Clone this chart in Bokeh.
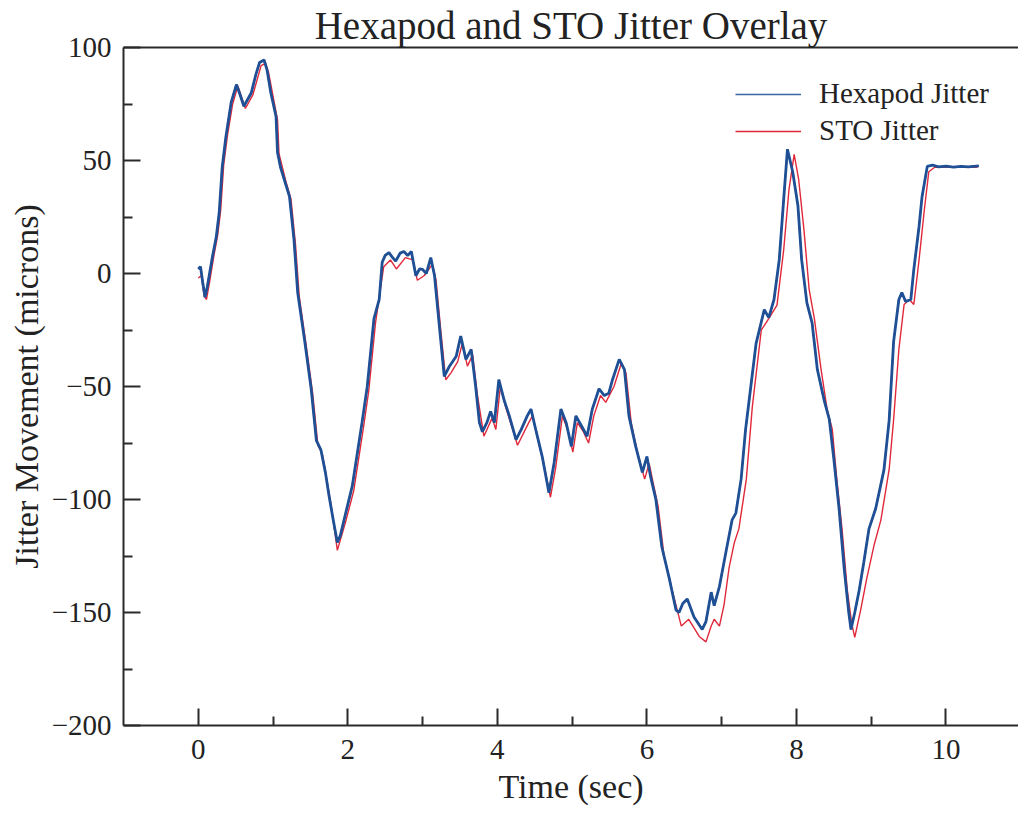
from bokeh.plotting import figure
from bokeh.models import (Range1d, FixedTicker, Legend, LegendItem, LinearAxis)
from bokeh.embed import file_html
from bokeh.resources import INLINE

# ---- data ----
hex_t = [0.00, 0.03, 0.06, 0.09, 0.12, 0.19, 0.24, 0.28, 0.32, 0.37, 0.44, 0.51, 0.55, 0.61,
         0.66, 0.71, 0.77, 0.82, 0.88, 0.92, 0.97, 1.04, 1.06, 1.10, 1.15, 1.22, 1.28, 1.33,
         1.42, 1.51, 1.58, 1.64, 1.70, 1.75, 1.81, 1.86, 1.90, 1.95, 2.06, 2.19, 2.26, 2.35,
         2.42, 2.46, 2.50, 2.55, 2.60, 2.64, 2.70, 2.75, 2.80, 2.85, 2.91, 2.96, 3.00, 3.05,
         3.11, 3.16, 3.22, 3.29, 3.36, 3.45, 3.51, 3.58, 3.65, 3.71, 3.76, 3.80, 3.86, 3.91,
         3.96, 4.02, 4.09, 4.16, 4.25, 4.32, 4.40, 4.45, 4.52, 4.60, 4.69, 4.76, 4.85, 4.92,
         4.99, 5.05, 5.13, 5.20, 5.27, 5.36, 5.43, 5.49, 5.54, 5.63, 5.70, 5.76, 5.85, 5.94,
         6.00, 6.05, 6.12, 6.20, 6.30, 6.39, 6.43, 6.48, 6.54, 6.63, 6.74, 6.79, 6.86, 6.90,
         6.97, 7.07, 7.14, 7.19, 7.26, 7.32, 7.39, 7.46, 7.57, 7.63, 7.70, 7.77, 7.83, 7.88,
         7.95, 8.02, 8.07, 8.14, 8.21, 8.28, 8.37, 8.44, 8.50, 8.57, 8.64, 8.70, 8.73, 8.78,
         8.84, 8.90, 8.97, 9.06, 9.17, 9.24, 9.30, 9.37, 9.41, 9.46, 9.53, 9.57, 9.64, 9.68,
         9.75, 9.82, 9.90, 10.00, 10.10, 10.20, 10.30, 10.44]
hex_v = [2, 3, -4, -10.5, -6, 7.5, 16, 27, 47, 60.6, 75.7, 83.6, 80, 74,
         77, 80, 88, 93.4, 94.5, 90, 80, 69.5, 53.5, 47, 41.6, 34, 15, -8.5,
         -29, -51, -74, -78, -88, -98.6, -110, -119, -116, -109, -94, -66, -50, -20,
         -11.5, 5, 8, 9.2, 7, 5.5, 9, 9.7, 8, 9.7, -1, 2, 1.8, 0,
         7, -1, -21.7, -45.5, -41, -36.6, -27.7, -38, -33.6, -50, -66, -70, -66, -61,
         -66, -47, -56, -63, -73.5, -69, -63, -60, -70, -81, -97, -83.6, -60, -66,
         -76.5, -63, -67.7, -72, -60, -51, -54, -53, -47, -38, -42.5, -63, -76.5, -88,
         -81, -90, -100, -121, -135, -149, -150, -146, -144, -152, -157.5, -154, -141, -147,
         -138.5, -121, -109, -106, -91, -69, -50, -31, -16, -19.5, -11.5, 6, 33, 55,
         45, 30, 6, -13, -22, -42.5, -56, -64.6, -82, -104, -131, -150, -157.5, -150,
         -140, -128, -113, -104, -87, -65, -30, -11.5, -8.4, -12.4, -11.5, 1.8, 20.8, 34,
         47.4, 48, 47.2, 47.5, 47.1, 47.4, 47.2, 47.6]

sto_t = [0.00, 0.04, 0.08, 0.11, 0.15, 0.21, 0.26, 0.30, 0.34, 0.39, 0.46, 0.53, 0.58, 0.63,
         0.73, 0.84, 0.90, 0.94, 1.06, 1.08, 1.17, 1.24, 1.30, 1.35, 1.44, 1.53, 1.60, 1.66,
         1.77, 1.86, 1.97, 2.08, 2.21, 2.28, 2.37, 2.48, 2.57, 2.65, 2.77, 2.87, 2.93, 3.02,
         3.13, 3.18, 3.24, 3.31, 3.38, 3.47, 3.53, 3.60, 3.67, 3.73, 3.82, 3.93, 3.98, 4.04,
         4.11, 4.27, 4.42, 4.47, 4.54, 4.62, 4.71, 4.78, 4.87, 4.94, 5.01, 5.07, 5.15, 5.22,
         5.29, 5.38, 5.45, 5.56, 5.66, 5.72, 5.79, 5.88, 5.97, 6.03, 6.08, 6.15, 6.23, 6.33,
         6.46, 6.56, 6.70, 6.79, 6.86, 6.90, 6.97, 7.03, 7.10, 7.17, 7.23, 7.33, 7.41, 7.53,
         7.63, 7.74, 7.83, 7.90, 7.97, 8.03, 8.10, 8.17, 8.24, 8.33, 8.41, 8.48, 8.54, 8.61,
         8.68, 8.74, 8.78, 8.86, 8.94, 9.04, 9.13, 9.24, 9.30, 9.37, 9.44, 9.51, 9.57, 9.64,
         9.71, 9.77, 9.85, 10.00, 10.20, 10.42]
sto_v = [-2, -1, -10, -11.5, -4, 8, 17, 28, 48, 61, 75, 83, 78, 73,
         79, 92, 93, 89, 68, 53, 41, 33, 13, -10, -31, -53, -76, -80,
         -101, -122.5, -110, -96, -68, -52, -22, 3, 6, 2, 7, 6, -3, -1,
         4, -3, -24, -47, -44, -39, -31, -41, -36, -53, -72, -64, -69, -50,
         -59, -76, -66, -63, -73, -84, -99, -86, -63, -69, -79, -66, -70, -75,
         -63, -54, -57, -50, -39.5, -44, -66, -80, -91, -84, -92, -103, -125, -139,
         -156, -153, -160.6, -163, -156, -153, -156, -147, -130, -119, -113, -91, -59, -25,
         -20, -14, 10.6, 37, 52.7, 41.6, 19.5, -7, -20, -42.5, -60, -69, -91, -113,
         -140, -155, -161, -148.7, -135, -120, -109, -86.7, -64.6, -33.6, -13.7, -11.5, -13.7, 6,
         28, 45, 47, 47, 47, 47]

x_ticks = [0, 2, 4, 6, 8, 10]
x_minor = [1, 3, 5, 7, 9]
y_ticks = [-200, -150, -100, -50, 0, 50, 100]
y_minor = [-175, -125, -75, -25, 25, 75]

SERIF = "Liberation Serif"
BLUE = "#1f4f95"
RED = "#e0283a"

p = figure(width=1018, height=816, output_backend="svg", toolbar_location=None,
           x_range=Range1d(-1, 10.97), y_range=Range1d(-200, 100),
           min_border_left=123, min_border_right=0, min_border_top=0,
           min_border_bottom=91, title="Hexapod and STO Jitter Overlay")
p.outline_line_color = None
p.grid.visible = False
p.background_fill_color = "white"
p.border_fill_color = "white"

p.title.text_font = SERIF
p.title.text_font_size = "39px"
p.title.text_font_style = "normal"
p.title.text_color = "#222222"
p.title.align = "center"
p.title.offset = 0
p.title.standoff = 2

sto = p.line(sto_t, sto_v, line_color=RED, line_width=1.4)
# thin copy of the hexapod trace (hidden under the thick one) used for the legend swatch
hex_key = p.line(hex_t, hex_v, line_color="#3f679f", line_width=1.5)
hexr = p.line(hex_t, hex_v, line_color=BLUE, line_width=2.8)

for ax in (p.xaxis[0], p.yaxis[0]):
    ax.axis_line_width = 2
    ax.axis_line_color = "#2a2a2a"
    ax.major_tick_line_color = "#2a2a2a"
    ax.minor_tick_line_color = "#2a2a2a"
    ax.major_tick_line_width = 2
    ax.minor_tick_line_width = 2
    ax.major_tick_in = 17
    ax.major_tick_out = 0
    ax.minor_tick_in = 9
    ax.minor_tick_out = 0
    ax.major_label_text_font = SERIF
    ax.major_label_text_font_size = "29px"
    ax.major_label_text_color = "#222222"
    ax.axis_label_text_font = SERIF
    ax.axis_label_text_font_size = "34px"
    ax.axis_label_text_font_style = "normal"
    ax.axis_label_text_color = "#222222"

p.xaxis[0].ticker = FixedTicker(ticks=x_ticks, minor_ticks=x_minor)
p.yaxis[0].ticker = FixedTicker(ticks=y_ticks, minor_ticks=y_minor)
p.xaxis[0].axis_label = "Time (sec)"
p.yaxis[0].axis_label = "Jitter Movement (microns)"
p.xaxis[0].major_label_standoff = 14
p.yaxis[0].major_label_standoff = 12
p.xaxis[0].axis_label_standoff = 6
p.yaxis[0].axis_label_standoff = 4

top = LinearAxis(ticker=FixedTicker(ticks=[]), axis_line_width=2, axis_line_color="#2a2a2a",
                 major_tick_line_color=None, minor_tick_line_color=None,
                 major_label_text_font_size="0px", major_tick_in=0, major_tick_out=0,
                 major_label_standoff=0)
p.add_layout(top, "above")

legend = Legend(items=[LegendItem(label="Hexapod Jitter", renderers=[hex_key]),
                       LegendItem(label="STO Jitter", renderers=[sto])],
                location=(612, 578), border_line_color=None, background_fill_alpha=0,
                padding=0, margin=0, spacing=4, glyph_width=66, glyph_height=30,
                label_standoff=18, label_text_font=SERIF, label_text_font_size="29px",
                label_text_color="#222222")
p.add_layout(legend, "center")

open("out.html", "w").write(file_html(p, INLINE))
